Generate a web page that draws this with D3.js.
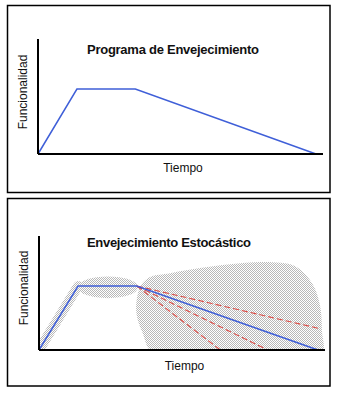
<!DOCTYPE html>
<html>
<head>
<meta charset="utf-8">
<script src="https://cdn.jsdelivr.net/npm/d3@7"></script>
<style>
  body { margin: 0; background: #fff; }
  text { font-family: "Liberation Sans", Arial, sans-serif; fill: #111; }
</style>
</head>
<body>
<svg id="fig" width="337" height="394"></svg>
<script>
// ageing profile: rise, plateau, decline (time 0..100, function 0..100)
var tiempo       = [0, 14, 35, 100];
var funcionalidad = [0, 100, 100, 0];

// stochastic alternatives leaving the end of the plateau
var ramasInicio = [35, 100];
var ramasFin    = [[100, 34], [65, 0], [82, 0]];

// stippled clouds of variability
var nubeDeclive = [[35, 78], [36.6, 101.5], [39.8, 114], [47, 120], [57.7, 128], [68.5, 134],
                   [81, 137.5], [91.8, 131], [97.8, 105], [100.7, 70], [101.4, 31], [101, -8],
                   [41.6, -8], [37, 28], [35, 55]];
var nubeMeseta  = {cx: 24.7, cy: 98, rx: 10.8, ry: 17};

var titulos = ['Programa de Envejecimiento', 'Envejecimiento Estocástico'];
var ejeX = 'Tiempo';
var ejeY = 'Funcionalidad';

var svg = d3.select('#fig');

var defs = svg.append('defs');
var pat = defs.append('pattern')
    .attr('id', 'puntos')
    .attr('patternUnits', 'userSpaceOnUse')
    .attr('width', 2).attr('height', 2);
pat.append('rect').attr('x', 0).attr('y', 0).attr('width', 1).attr('height', 1).attr('fill', '#b8b8b8');
pat.append('rect').attr('x', 1).attr('y', 1).attr('width', 1).attr('height', 1).attr('fill', '#b8b8b8');

var paneles = [
  {box: [7.5, 5.5, 330, 192.5], ax: [38, 154, 39, 323], x: [38, 316], y: [154, 89],
   titulo: [87, 54, 172], tiempo: [183, 172], func: [26.5, 92], estocastico: false},
  {box: [7.5, 198.5, 330, 386], ax: [39, 350, 236, 325], x: [39, 318], y: [350, 286],
   titulo: [87, 247, 164], tiempo: [184.5, 370], func: [28, 288], estocastico: true}
];

paneles.forEach(function(p, i) {
    var g = svg.append('g');

    g.append('rect')
        .attr('x', p.box[0]).attr('y', p.box[1])
        .attr('width', p.box[2] - p.box[0]).attr('height', p.box[3] - p.box[1])
        .attr('fill', 'none').attr('stroke', '#000').attr('stroke-width', 1.5);

    var x = d3.scaleLinear().domain([0, 100]).range(p.x);
    var y = d3.scaleLinear().domain([0, 100]).range(p.y);

    var perfil = d3.line()
        .x(function(d) { return x(d[0]); })
        .y(function(d) { return y(d[1]); });
    var puntos = tiempo.map(function(t, k) { return [t, funcionalidad[k]]; });

    if (p.estocastico) {
        var clipId = 'clip' + i;
        defs.append('clipPath').attr('id', clipId)
            .append('rect')
            .attr('x', p.ax[0]).attr('y', p.ax[2])
            .attr('width', p.ax[3] - p.ax[0]).attr('height', p.ax[1] - p.ax[2]);

        var nubes = g.append('g').attr('clip-path', 'url(#' + clipId + ')');

        nubes.append('path')
            .attr('d', d3.line()
                .x(function(d) { return x(d[0]); })
                .y(function(d) { return y(d[1]); })
                .curve(d3.curveCatmullRomClosed)(nubeDeclive))
            .attr('fill', 'url(#puntos)');

        nubes.append('ellipse')
            .attr('cx', x(nubeMeseta.cx)).attr('cy', y(nubeMeseta.cy))
            .attr('rx', x(nubeMeseta.rx) - x(0)).attr('ry', y(0) - y(nubeMeseta.ry))
            .attr('fill', 'url(#puntos)');

        // band of spread along the rising stretch
        nubes.append('path')
            .attr('d', perfil(puntos.slice(0, 2)))
            .attr('fill', 'none')
            .attr('stroke', 'url(#puntos)')
            .attr('stroke-width', 10)
            .attr('stroke-linecap', 'round');

        g.selectAll('line.rama')
            .data(ramasFin)
            .enter().append('line')
            .attr('class', 'rama')
            .attr('x1', x(ramasInicio[0])).attr('y1', y(ramasInicio[1]))
            .attr('x2', function(d) { return x(d[0]); })
            .attr('y2', function(d) { return y(d[1]); })
            .attr('stroke', '#de4a44')
            .attr('stroke-width', 1.1)
            .attr('stroke-dasharray', '6,3');
    }

    g.append('path')
        .attr('d', perfil(puntos))
        .attr('fill', 'none')
        .attr('stroke', '#3f5fd8')
        .attr('stroke-width', 1.5);

    // axes
    g.append('line')
        .attr('x1', p.ax[0]).attr('y1', p.ax[1])
        .attr('x2', p.ax[0]).attr('y2', p.ax[2])
        .attr('stroke', '#000').attr('stroke-width', 2);
    g.append('line')
        .attr('x1', p.ax[0]).attr('y1', p.ax[1])
        .attr('x2', p.ax[3]).attr('y2', p.ax[1])
        .attr('stroke', '#000').attr('stroke-width', 2);

    // title stretched to the width it spans above the plot
    g.append('text')
        .attr('x', p.titulo[0]).attr('y', p.titulo[1])
        .attr('textLength', p.titulo[2])
        .attr('lengthAdjust', 'spacing')
        .style('font-size', '13px').style('font-weight', 'bold')
        .text(titulos[i]);

    g.append('text')
        .attr('x', p.tiempo[0]).attr('y', p.tiempo[1])
        .attr('text-anchor', 'middle')
        .style('font-size', '12px')
        .text(ejeX);

    g.append('text')
        .attr('transform', 'translate(' + p.func[0] + ',' + p.func[1] + ') rotate(-90)')
        .attr('text-anchor', 'middle')
        .style('font-size', '12px')
        .text(ejeY);
});
</script>
</body>
</html>
